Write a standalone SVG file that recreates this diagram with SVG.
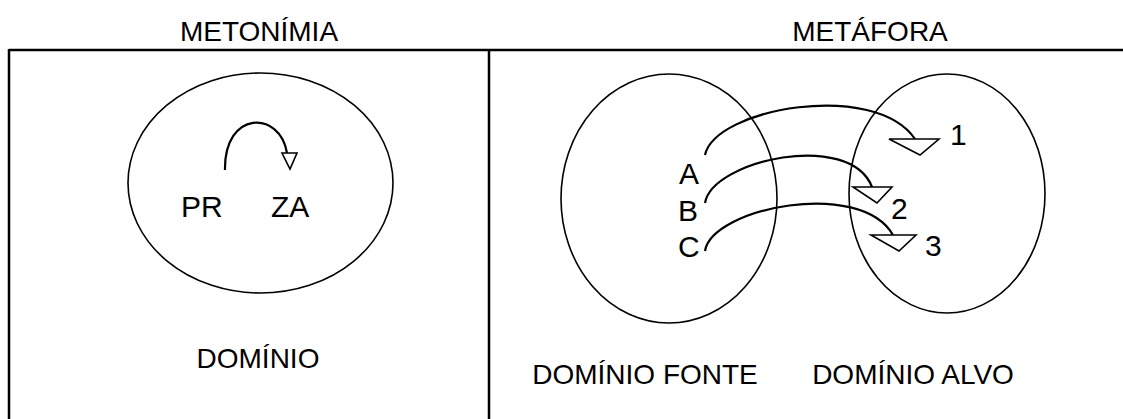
<svg xmlns="http://www.w3.org/2000/svg" width="1123" height="419" viewBox="0 0 1123 419">
<style>
  .t { font-family: "Liberation Sans", Arial, sans-serif; font-size: 28px; fill: #000; }
  .s { font-family: "Liberation Sans", Arial, sans-serif; font-size: 30px; fill: #000; }
  .frame { stroke: #000; stroke-width: 2.5; fill: none; }
  .ell { stroke: #000; stroke-width: 1.6; fill: none; }
  .arc { stroke: #000; stroke-width: 2.2; fill: none; }
  .head { stroke: #000; stroke-width: 1.6; fill: #fff; stroke-linejoin: miter; }
</style>
<rect width="1123" height="419" fill="#fff"/>
<g id="frame">
  <line class="frame" x1="9" y1="50" x2="1123" y2="50"/>
  <line class="frame" x1="9" y1="49" x2="9" y2="419"/>
  <line class="frame" x1="489" y1="49" x2="489" y2="419"/>
</g>
<g id="titles">
  <text class="t" x="259" y="41" text-anchor="middle">METONÍMIA</text>
  <text class="t" x="870" y="41" text-anchor="middle">METÁFORA</text>
</g>
<g id="dominio">
  <ellipse class="ell" cx="260.5" cy="183" rx="132.5" ry="110"/>
  <text class="s" x="181" y="217">PR</text>
  <text class="s" x="271" y="217">ZA</text>
  <text class="t" x="258" y="368" text-anchor="middle">DOMÍNIO</text>
</g>
<g id="dominio-fonte">
  <ellipse class="ell" cx="669" cy="198.5" rx="108" ry="124.5"/>
  <text class="s" x="679" y="184">A</text>
  <text class="s" x="678" y="220.5">B</text>
  <text class="s" x="678" y="256.5">C</text>
  <text class="t" x="645" y="384" text-anchor="middle">DOMÍNIO FONTE</text>
</g>
<g id="dominio-alvo">
  <ellipse class="ell" cx="947" cy="193.5" rx="98" ry="119.5"/>
  <text class="s" x="950" y="145">1</text>
  <text class="s" x="891" y="219">2</text>
  <text class="s" x="925" y="255.5">3</text>
  <text class="t" x="913" y="384" text-anchor="middle">DOMÍNIO ALVO</text>
</g>
<g id="connectors">
  <path class="arc" d="M225 170 C224 110 280 110 287 153"/>
  <polygon class="head" points="282,153 297,153 290,169"/>
  <path class="arc" d="M705 155 C715 108 875 80 915 139"/>
  <polygon class="head" points="889,139 939,139 920,155"/>
  <path class="arc" d="M705 203 C712 160 850 130 872 187"/>
  <polygon class="head" points="853,187 892,187 877,203"/>
  <path class="arc" d="M705 251 C712 208 860 178 893 235"/>
  <polygon class="head" points="871,235 916,235 899,251"/>
</g>
</svg>
